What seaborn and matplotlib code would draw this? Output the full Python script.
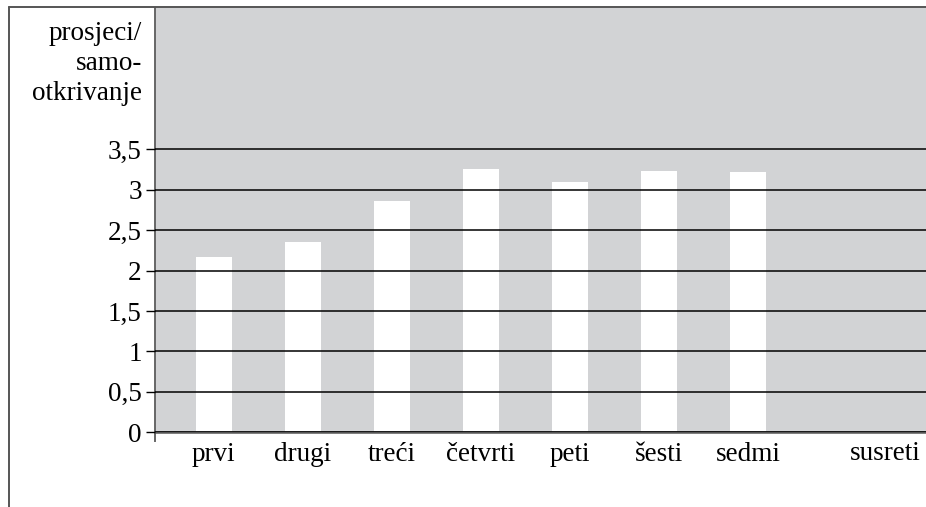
import matplotlib
matplotlib.use("Agg")
import matplotlib.pyplot as plt
from matplotlib.lines import Line2D
import pandas as pd
import seaborn as sns

susreti = ["prvi", "drugi", "treći", "četvrti", "peti", "šesti", "sedmi"]
prosjeci = [2.17, 2.36, 2.86, 3.26, 3.10, 3.23, 3.22]
y_ticks = [0, 0.5, 1, 1.5, 2, 2.5, 3, 3.5]
y_tick_labels = ["0", "0,5", "1", "1,5", "2", "2,5", "3", "3,5"]

df = pd.DataFrame({"susret": susreti, "prosjek": prosjeci})

sns.set_theme(style="white")
plt.rcParams["font.family"] = ["Liberation Serif", "DejaVu Serif"]
fs = 19.5

fig = plt.figure(figsize=(9.26, 5.07), dpi=100)
ax = fig.add_axes([155 / 926, 1 - 432.3 / 507, 771 / 926, 424.3 / 507])
ax.set_facecolor("#d2d3d5")

sns.barplot(data=df, x="susret", y="prosjek", color="white", width=0.4,
            saturation=1, edgecolor="none", ax=ax, zorder=1)

ax.set_xlim(-0.66, 8.0)
ax.set_ylim(0, 5.25)
ax.set_yticks(y_ticks)
ax.set_yticklabels(y_tick_labels)
ax.set_xlabel("")
ax.set_ylabel("")

ax.set_axisbelow(False)
ax.yaxis.grid(True, color="black", linewidth=1.1)
ax.xaxis.grid(False)

for side in ["top", "right"]:
    ax.spines[side].set_visible(False)
ax.spines["left"].set_color("#666666")
ax.spines["left"].set_linewidth(1.4)
ax.spines["left"].set_bounds(-0.11, 5.25)
ax.spines["bottom"].set_color("#555555")
ax.spines["bottom"].set_linewidth(1.8)

ax.tick_params(axis="y", left=True, length=6.5, width=1, color="black",
               pad=3, labelsize=fs, labelcolor="black")
ax.tick_params(axis="x", bottom=False, length=0, pad=7, labelsize=fs,
               labelcolor="black")

ax.text(0.993, -0.021, "susreti", transform=ax.transAxes, ha="right",
        va="top", fontsize=fs, color="black")

fig.text(142 / 926, 1 - 21 / 507, "prosjeci/\nsamo-\notkrivanje", ha="right",
         va="top", multialignment="right", fontsize=fs, linespacing=1.25,
         color="black")

fig.add_artist(Line2D([8.5 / 926, 8.5 / 926], [0, 1 - 7 / 507],
                      color="#555555", linewidth=1.4))
fig.add_artist(Line2D([8.5 / 926, 1], [1 - 7 / 507, 1 - 7 / 507],
                      color="#555555", linewidth=1.4))

fig.savefig("out.png", dpi=100)
